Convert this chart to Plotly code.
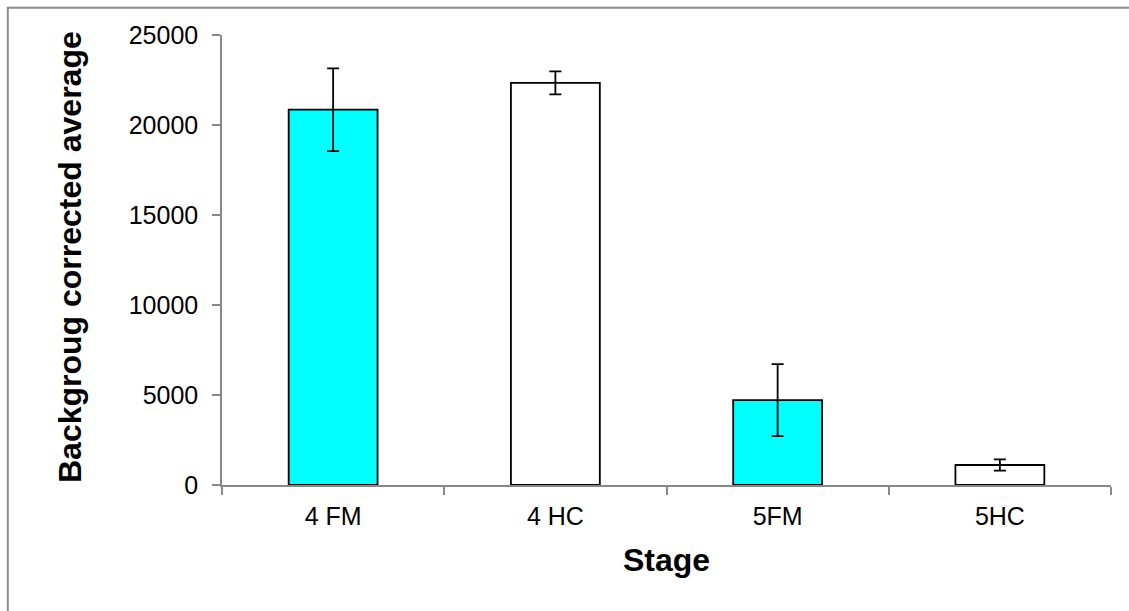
import plotly.graph_objects as go

categories = ["4 FM", "4 HC", "5FM", "5HC"]
values = [20850, 22340, 4720, 1110]
errors = [2300, 640, 2000, 315]
colors = ["#00FFFF", "#FFFFFF", "#00FFFF", "#FFFFFF"]
y_ticks = [0, 5000, 10000, 15000, 20000, 25000]

W, H = 1129, 611
L, R, T, B = 222, 18, 35, 126
pw, ph = W - L - R, H - T - B

def px_x(p):
    return (p - L) / pw

def px_y(p):
    return (H - B - p) / ph

fig = go.Figure()
fig.add_trace(go.Bar(
    x=categories, y=values, width=0.4,
    marker=dict(color=colors, line=dict(color="black", width=1.8)),
    error_y=dict(type="data", array=errors, visible=True,
                 color="black", thickness=1.8, width=6),
    showlegend=False,
))

font = "Liberation Sans, Arial, sans-serif"
fig.update_layout(
    width=W, height=H,
    margin=dict(l=L, r=R, t=T, b=B, pad=0),
    paper_bgcolor="white", plot_bgcolor="white",
    bargap=0.6,
    font=dict(family=font, size=25, color="black"),
    xaxis=dict(
        type="category", showline=True, linecolor="#888888", linewidth=1.5,
        ticks="outside", tickson="boundaries", ticklen=8, tickcolor="#888888",
        tickwidth=1.5, showgrid=False, zeroline=False,
        tickfont=dict(family=font, size=25, color="black"),
        ticklabelstandoff=8,
    ),
    yaxis=dict(
        range=[0, 25000], tickvals=y_ticks, ticktext=[str(v) for v in y_ticks],
        showline=True, linecolor="#888888", linewidth=1.5,
        ticks="outside", ticklen=8, tickcolor="#888888", tickwidth=1.5,
        showgrid=False, zeroline=False,
        tickfont=dict(family=font, size=25, color="black"),
        ticklabelstandoff=9,
    ),
    annotations=[
        dict(text="<b>Stage</b>", xref="paper", yref="paper",
             x=px_x(666.5), y=px_y(560), xanchor="center", yanchor="middle",
             showarrow=False, font=dict(family=font, size=32, color="black")),
        dict(text="<b>Backgroug corrected average</b>", xref="paper", yref="paper",
             x=px_x(70), y=px_y(257), xanchor="center", yanchor="middle",
             textangle=-90, showarrow=False,
             font=dict(family=font, size=32, color="black")),
    ],
    shapes=[
        dict(type="rect", xref="paper", yref="paper",
             x0=px_x(7.8), y0=px_y(700), x1=px_x(1250), y1=px_y(7.8),
             line=dict(color="#8c8c8c", width=2), fillcolor="rgba(0,0,0,0)",
             layer="below"),
    ],
)

fig.write_html("out.html")
